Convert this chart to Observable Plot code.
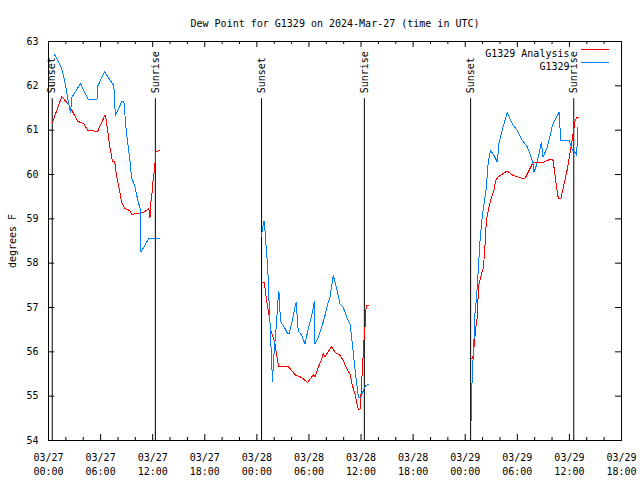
<!DOCTYPE html>
<html>
<head>
<meta charset="utf-8">
<script src="https://cdn.jsdelivr.net/npm/d3@7"></script>
<script src="https://cdn.jsdelivr.net/npm/@observablehq/plot@0.6"></script>
<style>
  html, body { margin: 0; padding: 0; background: #fff; }
</style>
</head>
<body>
<div id="chart"></div>
<script>
// ---------- text ----------
const chartTitle = "Dew Point for G1329 on 2024-Mar-27 (time in UTC)";
const yAxisLabel = "degrees F";
const seriesNames = ["G1329 Analysis", "G1329"];
const seriesColors = ["#ff0000", "#0080ff"];

// ---------- axes ----------
const baseTimeUTC = Date.UTC(2024, 2, 27, 0, 0); // hours below are counted from 03/27 00:00 UTC
const xTickHours = [0, 6, 12, 18, 24, 30, 36, 42, 48, 54, 60, 66];
const yTicks = [54, 55, 56, 57, 58, 59, 60, 61, 62, 63];

// ---------- sunset / sunrise markers (hours) ----------
const sunEventHours = [0.43, 12.31, 24.54, 36.38, 48.62, 60.5];
const sunEventLabels = ["Sunset", "Sunrise", "Sunset", "Sunrise", "Sunset", "Sunrise"];

// ---------- G1329 Analysis (red): [hour, degF] per night segment ----------
const analysisSeg1 = [[0.45,61.17],[1.53,61.76],[2.42,61.55],[3.35,61.2],[4.04,61.15],[4.5,61.0],[5.65,60.97],[6.54,61.35],[6.69,61.18],[7.04,60.65],[7.38,60.28],[7.62,60.3],[7.81,60.0],[8.08,59.75],[8.42,59.37],[8.77,59.23],[9.35,59.19],[9.58,59.1],[10.27,59.12],[10.96,59.15],[11.39,59.2],[11.54,59.25],[11.69,59.03],[11.77,59.35],[11.92,59.57],[12.0,59.8],[12.23,60.16],[12.35,60.5],[12.75,60.54]];
const analysisSeg2 = [[24.54,57.57],[24.84,57.57],[24.92,57.46],[25.07,57.23],[25.23,57.04],[25.38,56.86],[25.5,56.67],[25.62,56.48],[25.88,56.33],[26.08,56.18],[26.27,55.95],[26.39,55.77],[26.54,55.67],[27.61,55.67],[28.0,55.58],[28.46,55.47],[28.96,55.44],[29.34,55.39],[29.85,55.31],[30.23,55.41],[30.5,55.49],[30.69,55.43],[31.07,55.65],[31.47,55.84],[31.65,55.97],[31.85,55.89],[32.23,56.01],[32.62,56.12],[33.0,55.99],[33.58,55.92],[33.96,55.8],[34.35,55.62],[34.73,55.5],[35.0,55.24],[35.31,55.05],[35.5,54.86],[35.69,54.71],[35.88,54.71],[36.0,55.05],[36.15,55.58],[36.31,56.18],[36.46,56.56],[36.58,57.0],[36.66,57.04],[36.85,57.04]];
const analysisSeg3 = [[48.72,55.84],[48.85,55.86],[48.96,55.99],[49.08,56.26],[49.23,56.56],[49.38,56.78],[49.5,57.31],[49.58,57.53],[49.77,57.68],[49.88,57.76],[50.11,57.91],[50.23,58.29],[50.35,58.59],[50.42,58.96],[50.62,59.15],[50.73,59.26],[50.92,59.41],[51.31,59.64],[51.5,59.86],[51.81,59.95],[52.27,60.01],[52.85,60.08],[53.42,59.99],[54.77,59.9],[54.96,59.94],[55.73,60.24],[55.93,60.28],[57.08,60.28],[57.84,60.35],[58.12,60.32],[58.42,59.86],[58.73,59.45],[59.0,59.45],[59.39,59.79],[59.77,60.13],[60.15,60.58],[60.43,60.92],[60.66,61.22],[60.84,61.29],[61.0,61.28]];

// ---------- G1329 observations (blue): [hour, degF] per night segment ----------
const obsSeg1 = [[0.61,62.72],[0.89,62.65],[1.53,62.38],[1.93,62.05],[2.23,61.7],[2.54,61.4],[2.69,61.74],[3.69,62.05],[4.53,61.7],[5.62,61.7],[5.69,62.0],[6.46,62.32],[7.53,62.0],[7.70,61.33],[8.46,61.65],[8.69,61.63],[8.97,60.95],[9.46,60.2],[9.54,59.94],[9.92,59.75],[10.30,59.41],[10.62,59.19],[10.65,58.25],[11.08,58.4],[11.54,58.55],[12.75,58.55]];
const obsSeg2 = [[24.54,58.6],[24.61,58.73],[24.77,58.89],[24.84,58.96],[24.92,58.77],[25.07,58.36],[25.19,58.06],[25.30,57.68],[25.38,57.23],[25.5,56.71],[25.7,55.8],[25.81,55.31],[25.88,55.65],[26.0,56.03],[26.16,56.41],[26.31,56.78],[26.39,57.08],[26.54,57.38],[26.65,56.93],[26.77,56.67],[27.15,56.56],[27.54,56.41],[27.73,56.41],[28.0,56.63],[28.3,56.93],[28.46,57.08],[28.53,57.12],[28.76,56.48],[29.16,56.37],[29.54,56.18],[29.92,56.52],[30.31,56.82],[30.54,57.04],[30.61,57.14],[30.69,56.18],[31.07,56.33],[31.47,56.56],[31.85,56.82],[32.16,57.08],[32.42,57.23],[32.8,57.72],[33.2,57.42],[33.58,57.08],[33.96,57.0],[34.35,56.78],[34.73,56.63],[35.0,56.18],[35.23,55.73],[35.5,55.28],[35.69,54.98],[36.0,54.98],[36.27,55.13],[36.54,55.24],[36.85,55.26]];
const obsSeg3 = [[48.76,54.45],[48.78,55.28],[48.89,55.8],[49.04,56.4],[49.12,56.86],[49.27,57.16],[49.38,57.46],[49.5,57.83],[49.65,58.36],[49.77,58.66],[49.96,59.04],[50.16,59.34],[50.42,59.68],[50.65,60.28],[50.92,60.54],[51.31,60.43],[51.69,60.28],[51.88,60.69],[52.19,60.95],[52.46,61.14],[52.85,61.4],[53.42,61.14],[54.0,60.99],[54.58,60.77],[55.15,60.62],[55.54,60.43],[55.81,60.24],[55.93,60.05],[56.19,60.2],[56.5,60.47],[56.77,60.73],[56.96,60.39],[57.46,60.62],[57.84,60.92],[58.04,61.11],[58.42,61.26],[58.81,61.4],[59.0,60.77],[59.96,60.77],[60.35,60.54],[60.66,60.5],[60.84,60.43],[60.96,61.07]];

// ---------- build tables ----------
const toTime = h => new Date(baseTimeUTC + h * 3600000);
function rows(segments, series) {
  const out = [];
  segments.forEach((seg, i) => seg.forEach(([h, v]) => out.push({series, seg: series + i, time: toTime(h), value: v})));
  return out;
}
const analysisRows = rows([analysisSeg1, analysisSeg2, analysisSeg3], seriesNames[0]);
const obsRows = rows([obsSeg1, obsSeg2, obsSeg3], seriesNames[1]);
const sunEvents = sunEventHours.map((h, i) => ({time: toTime(h), label: sunEventLabels[i]}));
const xMajor = xTickHours.map(toTime);
const xMinor = d3.range(0, 67, 2).filter(h => h % 6 !== 0).map(toTime);

const W = 640, H = 480, ML = 48, MR = 19, MT = 41, MB = 40;
const frameW = W - ML - MR, frameH = H - MT - MB;
const fmt = d3.utcFormat("%m/%d\n%H:%M");
const LEG_DX = -52;

const plot = Plot.plot({
  width: W, height: H,
  marginLeft: ML, marginRight: MR, marginTop: MT, marginBottom: MB,
  style: {fontFamily: "'DejaVu Sans Mono', 'Liberation Mono', monospace", fontSize: "10px", background: "#fff", color: "#000", overflow: "visible"},
  x: {type: "utc", domain: [toTime(0), toTime(66)]},
  y: {domain: [54, 63]},
  marks: [
    Plot.axisY(yTicks, {tickSize: 0, tickPadding: 10, label: yAxisLabel, labelAnchor: "center", labelOffset: 40, labelArrow: "none", fill: "#000"}),
    Plot.axisX(xMajor, {tickSize: 0, tickPadding: 11, tickFormat: fmt, lineHeight: 1.4, label: null, fill: "#000"}),
    // inward (mirrored) ticks
    Plot.tickY(yTicks, {y: d => d, insetRight: frameW - 6, stroke: "#000"}),
    Plot.tickY(yTicks, {y: d => d, insetLeft: frameW - 6, stroke: "#000"}),
    Plot.tickX(xMajor, {x: d => d, insetTop: frameH - 6, stroke: "#000"}),
    Plot.tickX(xMajor, {x: d => d, insetBottom: frameH - 6, stroke: "#000"}),
    Plot.tickX(xMinor, {x: d => d, insetTop: frameH - 3, stroke: "#000"}),
    Plot.tickX(xMinor, {x: d => d, insetBottom: frameH - 3, stroke: "#000"}),
    // sunset / sunrise
    Plot.ruleX(sunEvents, {x: "time", y1: 54, y2: 61.71, stroke: "#000", strokeWidth: 1}),
    Plot.text(sunEvents, {x: "time", y: 61.83, text: "label", rotate: -90, textAnchor: "start", lineAnchor: "middle", fill: "#000"}),
    // data
    Plot.line(analysisRows, {x: "time", y: "value", z: "seg", stroke: seriesColors[0], strokeWidth: 1, strokeLinejoin: "miter", shapeRendering: "crispEdges"}),
    Plot.line(obsRows, {x: "time", y: "value", z: "seg", stroke: seriesColors[1], strokeWidth: 1, strokeLinejoin: "miter", shapeRendering: "crispEdges"}),
    Plot.frame({stroke: "#000", shapeRendering: "crispEdges"}),
    // title
    Plot.text([chartTitle], {text: d => d, frameAnchor: "top", dy: -22, fill: "#000"}),
    // legend text
    Plot.text([seriesNames[0]], {text: d => d, frameAnchor: "top-right", dx: LEG_DX, dy: 8, fill: "#000", textAnchor: "end"}),
    Plot.text([seriesNames[1]], {text: d => d, frameAnchor: "top-right", dx: LEG_DX, dy: 21, fill: "#000", textAnchor: "end"})
  ]
});

// legend swatches
const svg = d3.select(plot);
seriesNames.forEach((name, i) => {
  svg.append("line")
    .attr("x1", 581).attr("x2", 609)
    .attr("y1", MT + 8.5 + i * 13).attr("y2", MT + 8.5 + i * 13)
    .attr("stroke", seriesColors[i]).attr("stroke-width", 1)
    .attr("shape-rendering", "crispEdges");
});

document.getElementById("chart").appendChild(plot);
</script>
</body>
</html>
